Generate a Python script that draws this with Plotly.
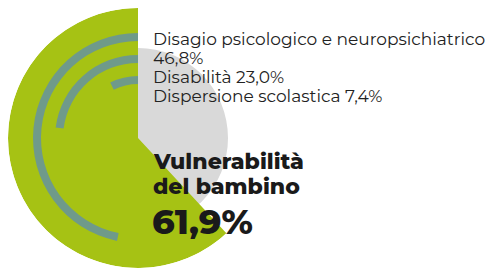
import plotly.graph_objects as go

# Data
total_label = ["Vulnerabilità", "del bambino"]
total_value = 61.9
sub_labels = ["Disagio psicologico e neuropsichiatrico", "Disabilità", "Dispersione scolastica"]
sub_values = [46.8, 23.0, 7.4]

GREEN = "#a6c214"
GRAY = "#d9d9d9"
TEAL = "#6f9a8a"

R_OUT = 130
R_GRAY = 90
arc_base = [97, 75, 54]
arc_thick = 8

OFF = 8  # default page body margin
W, H = 493 - OFF, 268 - OFF


def px(x):
    return (x - OFF) / W


def py(y):
    return 1 - (y - OFF) / H


fig = go.Figure()
fig.add_trace(go.Barpolar(r=[R_GRAY], theta=[180], width=[360], base=0,
                          marker=dict(color=GRAY, line=dict(width=0), opacity=1), hoverinfo="skip"))
fig.add_trace(go.Barpolar(r=[R_OUT], theta=[total_value * 3.6 / 2], width=[total_value * 3.6], base=0,
                          marker=dict(color=GREEN, line=dict(width=0), opacity=1), hoverinfo="skip"))
for v, b in zip(sub_values, arc_base):
    fig.add_trace(go.Barpolar(r=[arc_thick], theta=[v * 3.6 / 2], width=[v * 3.6], base=[b],
                              marker=dict(color=TEAL, line=dict(width=0), opacity=1), hoverinfo="skip"))

cx, cy = 138, 138
fig.update_layout(
    width=W, height=H, margin=dict(l=0, r=0, t=0, b=0),
    paper_bgcolor="white", plot_bgcolor="white", showlegend=False,
    polar=dict(
        domain=dict(x=[px(cx - R_OUT), px(cx + R_OUT)],
                    y=[py(cy + R_OUT), py(cy - R_OUT)]),
        bgcolor="rgba(0,0,0,0)",
        radialaxis=dict(visible=False, range=[0, R_OUT]),
        angularaxis=dict(visible=False, direction="counterclockwise", rotation=90),
        barmode="overlay",
    ),
)

font_small = dict(family="Montserrat, sans-serif", size=17, color="#222222")
fmt = lambda v: f"{v:.1f}%".replace(".", ",")
small_lines = [sub_labels[0], fmt(sub_values[0]),
               f"{sub_labels[1]} {fmt(sub_values[1])}",
               f"{sub_labels[2]} {fmt(sub_values[2])}"]
ys = [39, 58, 77, 96]
for t, yy in zip(small_lines, ys):
    fig.add_annotation(text=t, x=px(151), y=py(yy), xref="paper", yref="paper",
                       xanchor="left", yanchor="middle", showarrow=False, font=font_small)

font_bold = dict(family="Montserrat, sans-serif", size=22, color="#1a1a1a", weight=800)
fig.add_annotation(text=total_label[0], x=px(151), y=py(161), xref="paper", yref="paper",
                   xanchor="left", yanchor="middle", showarrow=False, font=font_bold)
fig.add_annotation(text=total_label[1], x=px(151), y=py(186), xref="paper", yref="paper",
                   xanchor="left", yanchor="middle", showarrow=False, font=font_bold)
fig.add_annotation(text=fmt(total_value), x=px(150), y=py(221),
                   xref="paper", yref="paper", xanchor="left", yanchor="middle", showarrow=False,
                   font=dict(family="Montserrat, sans-serif", size=35, color="#1a1a1a", weight=800))

fig.write_html("out.html")
